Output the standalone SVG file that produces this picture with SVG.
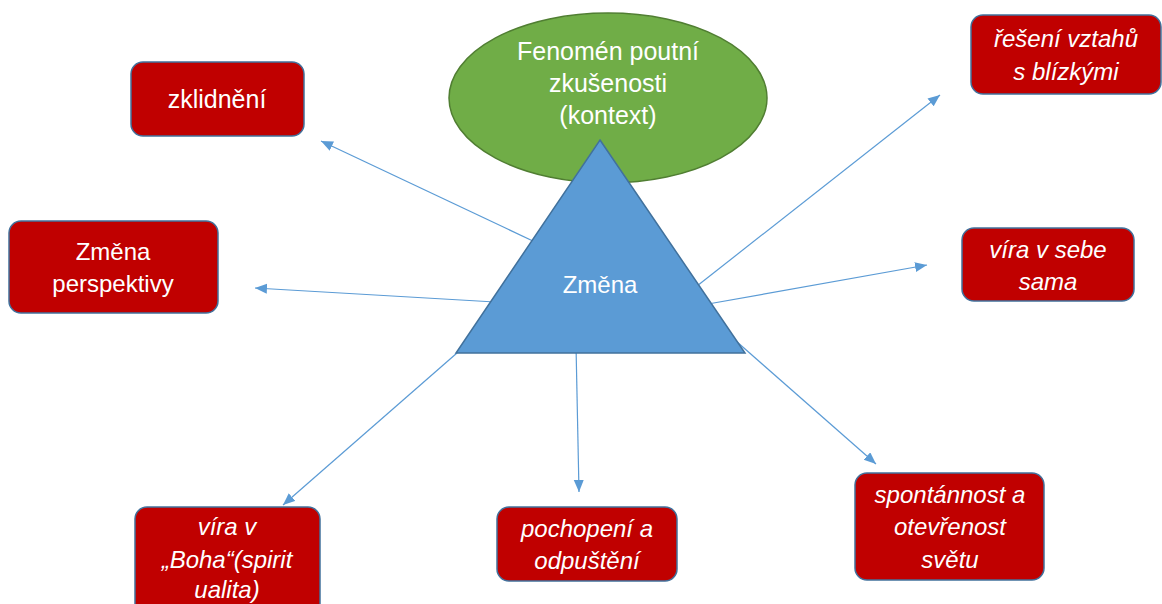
<svg xmlns="http://www.w3.org/2000/svg" width="1162" height="604" viewBox="0 0 1162 604">
<defs>
<style>
.box{fill:#c00000;stroke:#41719c;stroke-width:1.5}
.t{font-family:"Liberation Sans",Arial,sans-serif;font-size:24px;fill:#ffffff;text-anchor:middle}
.b{font-size:25px}
.i{font-style:italic}
.c{stroke:#5b9bd5;stroke-width:1.2;fill:none;marker-end:url(#ah)}
</style>
<marker id="ah" markerUnits="userSpaceOnUse" markerWidth="13" markerHeight="11" refX="12" refY="5" orient="auto" viewBox="0 0 13 11">
<path d="M0,0 L12,5 L0,10 z" fill="#5b9bd5"/>
</marker>
</defs>
<rect width="1162" height="604" fill="#ffffff"/>
<g id="connectors">
<line class="c" x1="535" y1="242" x2="321" y2="141"/>
<line class="c" x1="495" y1="302" x2="255" y2="288"/>
<line class="c" x1="697" y1="286" x2="940" y2="95"/>
<line class="c" x1="708" y1="304" x2="927" y2="265"/>
<line class="c" x1="728" y1="334" x2="876" y2="464"/>
<line class="c" x1="576" y1="345" x2="579" y2="492"/>
<line class="c" x1="465" y1="346" x2="283" y2="505"/>
</g>
<g id="kontext">
<ellipse cx="608" cy="98" rx="159" ry="85" fill="#70ad47" stroke="#507e32" stroke-width="1.5"/>
<text class="t b" x="608" y="60">Fenomén poutní</text>
<text class="t b" x="608" y="92">zkušenosti</text>
<text class="t b" x="608" y="124">(kontext)</text>
</g>
<g id="zmena">
<polygon points="600,140 745,353 456,353" fill="#5b9bd5" stroke="#41719c" stroke-width="1.5"/>
<text class="t" x="600" y="293">Změna</text>
</g>
<g id="zklidneni">
<rect class="box" x="131" y="62" width="173" height="74" rx="12"/>
<text class="t b" x="217" y="108">zklidnění</text>
</g>
<g id="perspektiva">
<rect class="box" x="9" y="221" width="209" height="92" rx="12"/>
<text class="t" x="113" y="260">Změna</text>
<text class="t" x="113" y="292">perspektivy</text>
</g>
<g id="vztahy">
<rect class="box" x="971" y="15" width="190" height="79" rx="12"/>
<text class="t i" x="1066" y="47">řešení vztahů</text>
<text class="t i" x="1066" y="80">s blízkými</text>
</g>
<g id="vira-sebe">
<rect class="box" x="962" y="228" width="172" height="73" rx="12"/>
<text class="t i" x="1048" y="258">víra v sebe</text>
<text class="t i" x="1048" y="290">sama</text>
</g>
<g id="spontannost">
<rect class="box" x="855" y="473" width="189" height="107" rx="12"/>
<text class="t i" x="950" y="503">spontánnost a</text>
<text class="t i" x="950" y="535">otevřenost</text>
<text class="t i" x="950" y="568">světu</text>
</g>
<g id="pochopeni">
<rect class="box" x="497" y="507" width="180" height="74" rx="12"/>
<text class="t i" x="587" y="537">pochopení a</text>
<text class="t i" x="587" y="569">odpuštění</text>
</g>
<g id="vira-boh">
<rect class="box" x="135" y="507" width="185" height="110" rx="12"/>
<text class="t i" x="227" y="535">víra v</text>
<text class="t i" x="227" y="568">„Boha“(spirit</text>
<text class="t i" x="227" y="598">ualita)</text>
</g>
</svg>
